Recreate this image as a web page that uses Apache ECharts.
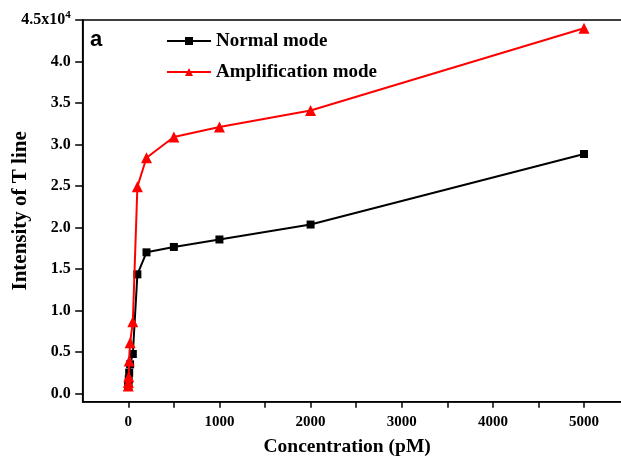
<!DOCTYPE html>
<html>
<head>
<meta charset="utf-8">
<script src="https://cdn.jsdelivr.net/npm/echarts@6/dist/echarts.min.js"></script>
<style>html,body{margin:0;padding:0;background:#fff;}#c{width:621px;height:456px;}</style>
</head>
<body>
<div id="c"></div>
<script>
// Data (pM concentrations and T-line intensities)
const concentrations = [0, 1, 5, 10, 20, 50, 100, 200, 500, 1000, 2000, 5000];
const normalMode = [800, 1100, 1700, 2500, 3500, 4750, 14350, 17000, 17650, 18550, 20350, 28850];
const amplificationMode = [900, 1300, 2000, 3900, 6100, 8650, 24900, 28400, 30900, 32100, 34100, 44000];
const xTickLabels = [0, 1000, 2000, 3000, 4000, 5000];
const xTicks = [0, 500, 1000, 1500, 2000, 2500, 3000, 3500, 4000, 4500, 5000];
const yTicks = [0, 5000, 10000, 15000, 20000, 25000, 30000, 35000, 40000, 45000];

const serif = 'Liberation Serif';
const chart = echarts.init(document.getElementById('c'), null, {renderer: 'canvas'});
const pairs = arr => concentrations.map((c, i) => [c, arr[i]]);

chart.setOption({
  animation: false,
  backgroundColor: '#fff',
  grid: {left: 82.7, right: -8.6, top: 20, bottom: 54.3, containLabel: false, outerBoundsMode: 'none',
         show: true, borderColor: '#000', borderWidth: 1.6, backgroundColor: 'transparent'},
  legend: {
    data: ['Normal mode', 'Amplification mode'],
    orient: 'vertical', left: 166, top: 31, padding: 0, itemWidth: 44, itemHeight: 10, itemGap: 11,
    textStyle: {fontFamily: serif, fontWeight: 'bold', fontSize: 19, color: '#000', lineHeight: 20}
  },
  graphic: [{type: 'text', left: 90, top: 29, style: {text: 'a', font: 'bold 22px "Liberation Sans"', fill: '#000'}}],
  xAxis: {
    type: 'value', min: -500, max: 5500,
    name: 'Concentration (pM)', nameLocation: 'middle', nameGap: 35, nameMoveOverlap: false,
    nameTextStyle: {fontFamily: serif, fontWeight: 'bold', fontSize: 19.5, color: '#000', padding: [0, 18, 0, 0]},
    axisLine: {show: true, onZero: false, lineStyle: {color: '#000', width: 1.6}},
    axisTick: {show: true, inside: false, length: 6, lineStyle: {color: '#000', width: 1.5}, customValues: xTicks},
    axisLabel: {fontFamily: serif, fontWeight: 'bold', fontSize: 15, color: '#000', margin: 13, customValues: xTickLabels,
      formatter: v => String(v)},
    splitLine: {show: false}
  },
  yAxis: {
    type: 'value', min: -1000, max: 45000,
    name: 'Intensity of T line', nameLocation: 'middle', nameGap: 52, nameMoveOverlap: false,
    nameTextStyle: {fontFamily: serif, fontWeight: 'bold', fontSize: 21, color: '#000'},
    axisLine: {show: true, onZero: false, lineStyle: {color: '#000', width: 1.6}},
    axisTick: {show: true, inside: false, length: 7.5, lineStyle: {color: '#000', width: 1.5}, customValues: yTicks},
    axisLabel: {
      fontFamily: serif, fontWeight: 'bold', fontSize: 16, color: '#000', margin: 12, customValues: yTicks,
      formatter: v => v === 45000 ? '4.5x10{sup|4}' : (v / 10000).toFixed(1),
      rich: {sup: {fontFamily: serif, fontWeight: 'bold', fontSize: 11, color: '#000', padding: [0, 0, 9, 0]}}
    },
    splitLine: {show: false}
  },
  series: [
    {name: 'Normal mode', type: 'line', data: pairs(normalMode), symbol: 'rect', symbolSize: 8,
     itemStyle: {color: '#000'}, lineStyle: {color: '#000', width: 2}, z: 2},
    {name: 'Amplification mode', type: 'line', data: pairs(amplificationMode), symbol: 'triangle', symbolSize: 11,
     itemStyle: {color: '#ff0000'}, lineStyle: {color: '#ff0000', width: 2}, z: 3}
  ]
});
</script>
</body>
</html>
